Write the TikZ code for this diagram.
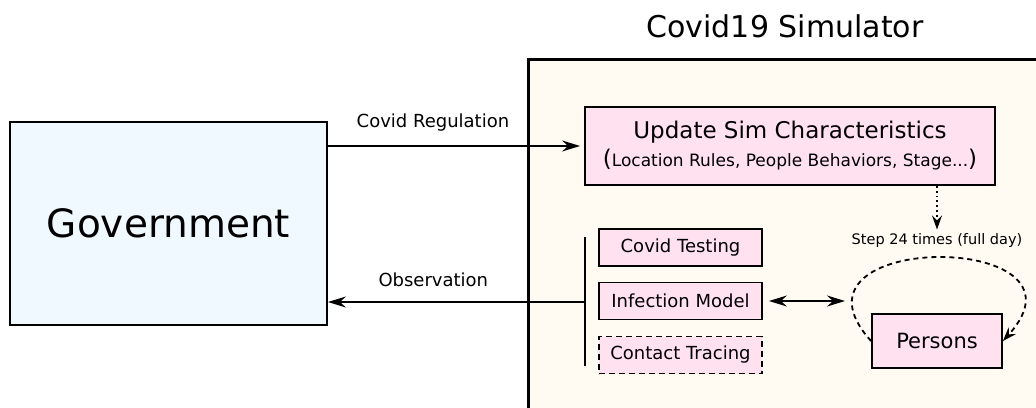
\documentclass[tikz,border=0pt]{standalone}
\usepackage{fontspec}
\setmainfont{DejaVu Sans}
\usetikzlibrary{arrows.meta,positioning}
\definecolor{govfill}{HTML}{F0F9FF}
\definecolor{simfill}{HTML}{FFFBF2}
\definecolor{pinkfill}{HTML}{FFE1F0}

\begin{document}
\begin{tikzpicture}[x=1pt,y=-1pt,
    box/.style={draw,line width=1.8pt,fill=pinkfill,inner sep=0pt},
    lbl/.style={font=\fontsize{18}{22}\selectfont},
    tip/.style={Stealth[length=18pt,width=11pt,inset=6pt]},
    arr/.style={line width=1.8pt,-{Stealth[length=18pt,width=11pt,inset=6pt]}}]
  \useasboundingbox (0,0) rectangle (1036,407);
  % simulator frame, cut by the page edge
  \node[draw,line width=2.6pt,fill=simfill,anchor=north west,
        minimum width=560pt,minimum height=400pt] (sim) at (527,58) {};
  \node[font=\fontsize{30}{36}\selectfont] (title) at (785,26) {Covid19 Simulator};
  \node[draw,line width=1.8pt,fill=govfill,minimum width=317pt,minimum height=203pt,
        font=\fontsize{39}{46}\selectfont] (gov) at (168.5,223.5) {Government};
  \node[box,minimum width=410pt,minimum height=78pt,align=center,
        font=\fontsize{23}{28}\selectfont] (upd) at (790,146)
    {Update Sim Characteristics\\(\fontsize{17}{28}\selectfont Location Rules, People Behaviors, Stage...\fontsize{23}{28}\selectfont)};
  \node[box,lbl,minimum width=163pt,minimum height=37pt] (test) at (680.5,247.5) {Covid Testing};
  \node[box,lbl,minimum width=163pt,minimum height=37pt] (inf) at (680.5,301) {Infection Model};
  \node[box,lbl,dash pattern=on 6pt off 4pt,minimum width=163pt,minimum height=37pt]
    (trace) at (680.5,355) {Contact Tracing};
  \node[box,minimum width=130pt,minimum height=54pt,font=\fontsize{21}{25}\selectfont]
    (per) at (937,341) {Persons};
  \node[font=\fontsize{14.5}{17}\selectfont] (step) at (937,240) {Step 24 times (full day)};
  \coordinate (brt) at (585,237);
  \coordinate (brb) at (585,366);
  \coordinate (obs) at (585,302);
  \coordinate (loopw) at (851,301);
  \draw[arr,shorten >=4pt] (gov.east |- upd.west) -- (upd.west)
    node[lbl,pos=0.41,above=11pt] (reg) {Covid Regulation};
  \draw[line width=1.8pt] (brt) -- (brb);
  \draw[arr] (obs) -- (obs -| gov.east)
    node[lbl,pos=0.59,above=11pt] (obslbl) {Observation};
  \draw[line width=1.8pt,{Stealth[length=18pt,width=11pt,inset=6pt]}-{Stealth[length=18pt,width=11pt,inset=6pt]},
        shorten <=6pt,shorten >=6pt] (inf.east) -- (loopw);
  \draw[line width=1.8pt,dash pattern=on 1.8pt off 3pt,
        -{Stealth[length=14pt,width=10pt,inset=5pt]}] (upd.south -| step.north) -- (step.north);
  \draw[line width=1.8pt,dash pattern=on 5pt off 4pt,
        -{Stealth[length=14pt,width=10pt,inset=5pt]}]
    (per.west) .. controls (770,230) and (1104,230) .. (per.east);
\end{tikzpicture}
\end{document}
